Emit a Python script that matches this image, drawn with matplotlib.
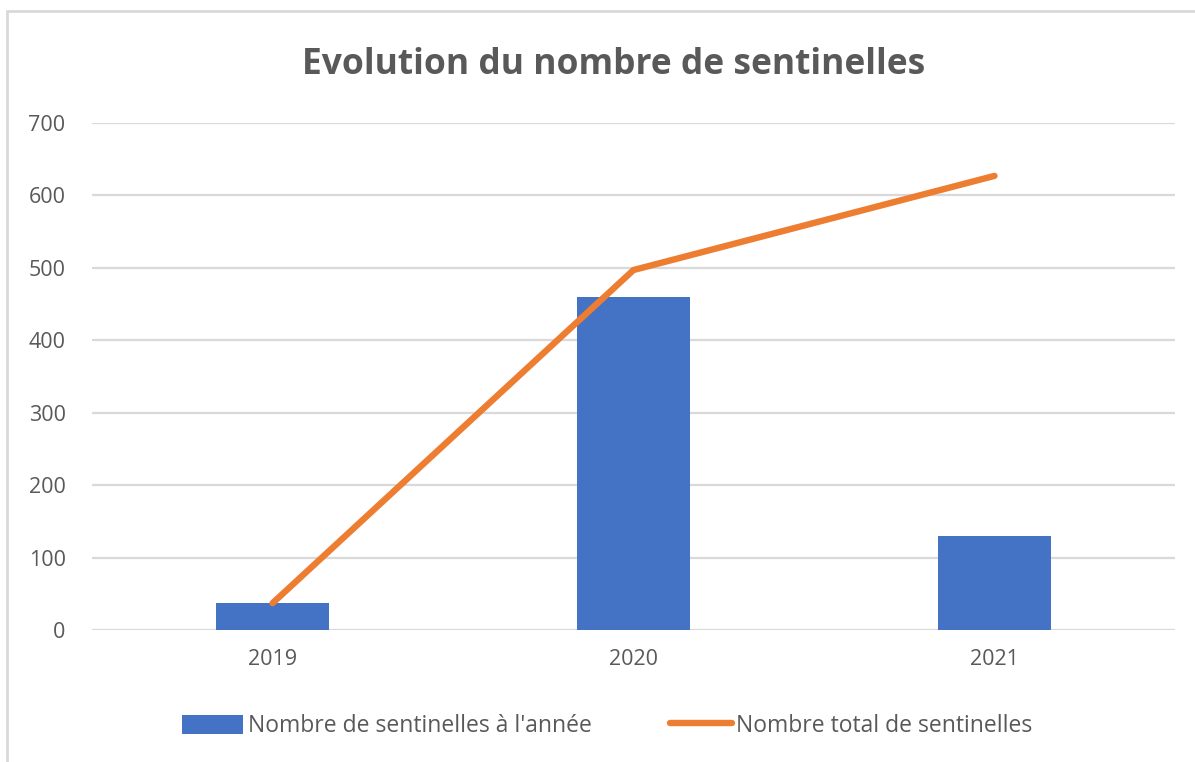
import matplotlib.pyplot as plt
from matplotlib.patches import Rectangle

years = ["2019", "2020", "2021"]
per_year = [37, 460, 130]
total = [37, 497, 627]

bar_label = "Nombre de sentinelles à l'année"
line_label = "Nombre total de sentinelles"
title = "Evolution du nombre de sentinelles"

plt.rcParams["font.family"] = ["Open Sans", "DejaVu Sans"]
text_col = "#595959"
grid_col = "#d9d9d9"

fig = plt.figure(figsize=(11.95, 7.62), dpi=100)
ax = fig.add_axes([92 / 1195, 1 - 630 / 762, (1175 - 92) / 1195, (630 - 123) / 762])

# cadre du graphique
fig.patches.append(Rectangle((7 / 1195, -0.1), 1.2, 1 - 11 / 762 + 0.1,
                             transform=fig.transFigure, fill=False,
                             edgecolor=grid_col, linewidth=2))

x = range(len(years))
bars = ax.bar(x, per_year, width=0.313, color="#4472C4", label=bar_label, zorder=2)
line, = ax.plot(x, total, color="#ED7D31", linewidth=4.6, solid_capstyle="round",
                label=line_label, zorder=3)

ax.set_xlim(-0.5, 2.5)
ax.set_ylim(0, 700)
ax.set_yticks(range(0, 701, 100))
ax.set_xticks(list(x))
ax.set_xticklabels(years)
ax.grid(axis="y", color=grid_col, linewidth=1.6, zorder=0)
ax.set_axisbelow(True)
for s in ax.spines.values():
    s.set_visible(False)
ax.tick_params(axis="both", length=0, colors=text_col, labelsize=15.5)
ax.tick_params(axis="y", pad=19)
ax.tick_params(axis="x", pad=14)

fig.text(614 / 1195, 1 - 65 / 762, title, ha="center", va="center",
         fontsize=25.5, fontweight="bold", color=text_col)

fig.legend([bars, line], [bar_label, line_label],
           loc="center", bbox_to_anchor=(607 / 1195, 1 - 726 / 762), ncol=2,
           frameon=False, fontsize=16.5, labelcolor=text_col,
           handlelength=2.7, handleheight=0.9, handletextpad=0.2,
           columnspacing=3.4)

fig.savefig("out.png", dpi=100)
